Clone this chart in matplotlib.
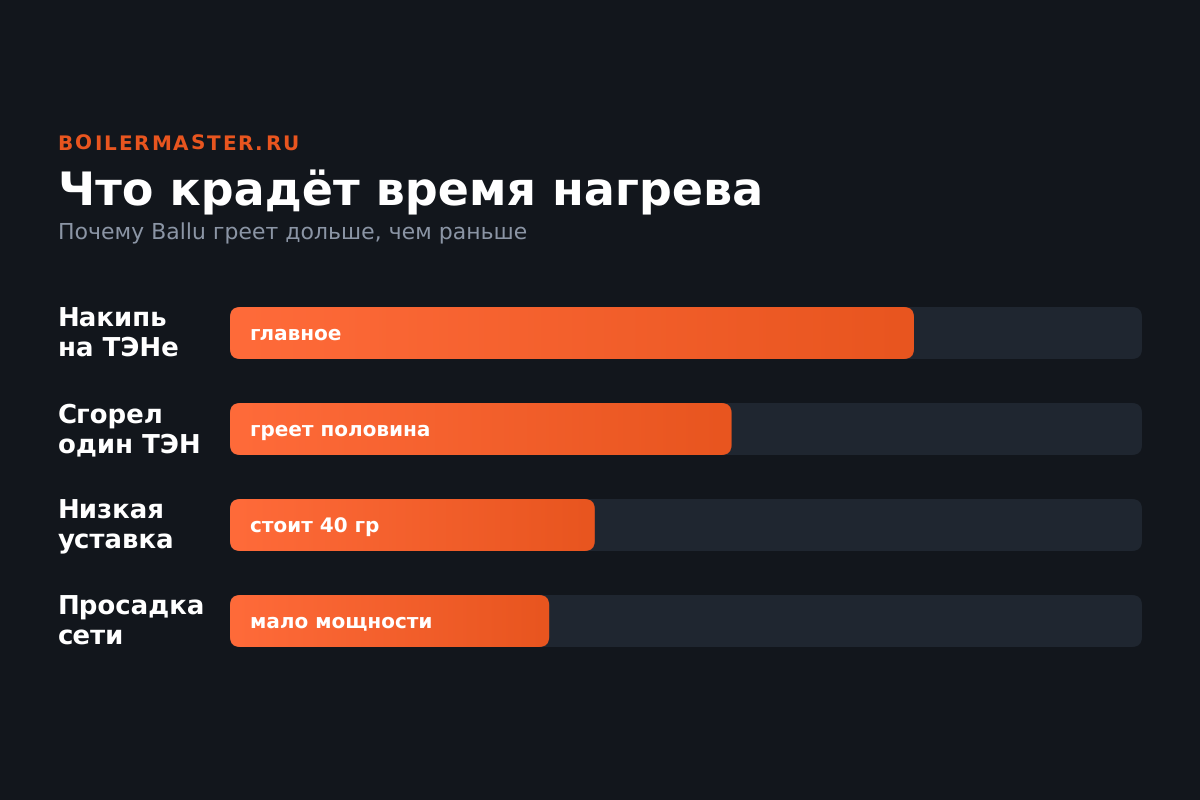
import numpy as np
import matplotlib
matplotlib.use("Agg")
import matplotlib.pyplot as plt
from matplotlib.colors import LinearSegmentedColormap
from matplotlib.patches import FancyBboxPatch
from matplotlib.font_manager import FontProperties
from matplotlib.textpath import TextToPath

categories = ["Накипь\nна ТЭНе", "Сгорел\nодин ТЭН", "Низкая\nуставка", "Просадка\nсети"]
values = [75, 55, 40, 35]
bar_labels = ["главное", "греет половина", "стоит 40 гр", "мало мощности"]
brand = "BOILERMASTER.RU"
title = "Что крадёт время нагрева"
subtitle = "Почему Ballu греет дольше, чем раньше"

BG = "#12161c"; TRACK = "#1f2630"; C0 = "#ff6b3a"; C1 = "#e8551f"
PT = 72 / 100  # points per pixel at dpi 100
plt.rcParams['font.family'] = ['DejaVu Sans']
plt.rcParams['text.hinting'] = 'no_hinting'
plt.rcParams['text.hinting_factor'] = 1

fig = plt.figure(figsize=(12, 8), dpi=100, facecolor=BG)
ov = fig.add_axes([0, 0, 1, 1]); ov.set_xlim(0, 1200); ov.set_ylim(800, 0); ov.axis('off')
ov.set_zorder(5)

# letter-spaced brand line
fp = FontProperties(family='DejaVu Sans', weight='bold', size=20 * PT)
ttp = TextToPath()
spacing = 1.95
for k, ch in enumerate(brand):
    w = ttp.get_text_width_height_descent(brand[:k], fp, False)[0] if k else 0
    ov.text(57.6 + w / PT + k * spacing, 150, ch, color=C1, fontproperties=fp, va='baseline')

ov.text(58, 205, title, color="white", fontsize=46 * PT, fontweight='bold', va='baseline')
ov.text(58, 239, subtitle, color="#8b95a5", fontsize=22 * PT, va='baseline')

ax = fig.add_axes([230 / 1200, 1 - 647 / 800, 912 / 1200, 340 / 800])
ax.axis('off')
h = 52 / 96
cmap = LinearSegmentedColormap.from_list("o", [C0, C1], N=1024)
grad = np.linspace(0, 1, 1024).reshape(1, -1)
rx = 1.1; ry = 10 / 96
label_nudge = [0, 0, 1, -1]  # compensates baseline pixel snapping per row
for i, (v, lab, cat) in enumerate(zip(values, bar_labels, categories)):
    track = FancyBboxPatch((0, i - h / 2), 100, h, boxstyle=f"round,pad=0,rounding_size={rx}",
                           mutation_aspect=ry / rx, fc=TRACK, ec='none')
    ax.add_patch(track)
    bar = FancyBboxPatch((0, i - h / 2), v, h, boxstyle=f"round,pad=0,rounding_size={rx}",
                         mutation_aspect=ry / rx, fc='none', ec='none')
    ax.add_patch(bar)
    im = ax.imshow(grad, extent=(0, v, i + h / 2, i - h / 2), cmap=cmap, aspect='auto', zorder=3,
                   interpolation='bilinear')
    im.set_clip_path(bar)
    ov.text(249.6, 340 + 96 * i + label_nudge[i], lab, color="white", fontsize=20 * PT, fontweight='bold', va='baseline')
    first, second = cat.split("\n")
    ov.text(58, 327 + 96 * i, first, color="white", fontsize=26 * PT, fontweight='bold', va='baseline')
    ov.text(58, 356 + 96 * i, second, color="white", fontsize=26 * PT, fontweight='bold', va='baseline')
ax.set_xlim(0, 100); ax.set_ylim(3 + h / 2, -h / 2)
fig.savefig("out.png", dpi=100, facecolor=BG)
